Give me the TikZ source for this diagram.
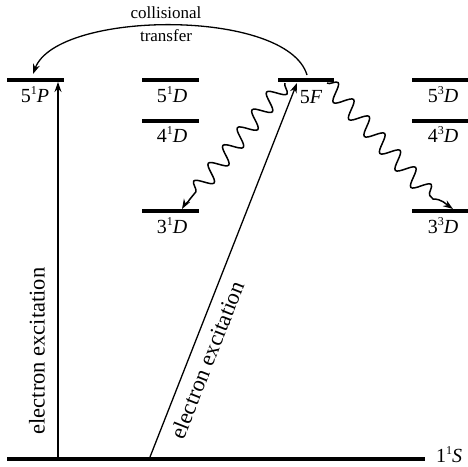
\documentclass[tikz,border=0pt]{standalone}
\usepackage{fontspec}
\setmainfont{Liberation Serif}
\usetikzlibrary{arrows.meta,decorations.pathmorphing}
\begin{document}
\begin{tikzpicture}[x=1pt,y=-1pt,
  level/.style={line width=3.5pt},
  lab/.style={font=\fontsize{20}{22}\selectfont, inner sep=0pt, anchor=base},
  big/.style={font=\fontsize{22.5}{24}\selectfont, inner sep=0pt, anchor=center},
  small/.style={font=\fontsize{17}{19}\selectfont, inner sep=0pt, anchor=base},
  arr/.style={-{Stealth[length=10pt,width=7pt]}, line width=1.3pt},
  snk/.style={line width=1.5pt, decoration={snake, segment length=23pt, amplitude=8.5pt, pre length=0pt, post length=0pt}}]
\useasboundingbox (0,0) rectangle (468,466);

% levels
\draw[level] (7,80) coordinate (P5a) -- (64,80) coordinate (P5b);
\draw[level] (142,80) coordinate (D51a) -- (199,80) coordinate (D51b);
\draw[level] (142,121) coordinate (D41a) -- (199,121) coordinate (D41b);
\draw[level] (142,211) coordinate (D31a) -- (199,211) coordinate (D31b);
\draw[level] (278,80) coordinate (F5a) -- (334,80) coordinate (F5b);
\draw[level] (412,80) coordinate (D53a) -- (468,80) coordinate (D53b);
\draw[level] (412,121) coordinate (D43a) -- (468,121) coordinate (D43b);
\draw[level] (412,211) coordinate (D33a) -- (468,211) coordinate (D33b);
\draw[level] (7,459) coordinate (S1a) -- (425,459) coordinate (S1b);

% level labels
\newcommand{\sps}[1]{\raisebox{0.38em}{\fontsize{12}{12}\selectfont #1}}
\node[lab] (lP5) at (35,102) {5\sps{1}\textit{P}};
\node[lab] (lD51) at (172,102) {5\sps{1}\textit{D}};
\node[lab] (lD41) at (172,142) {4\sps{1}\textit{D}};
\node[lab] (lD31) at (172,233) {3\sps{1}\textit{D}};
\node[lab] (lF5) at (311,103) {5\textit{F}};
\node[lab] (lD53) at (443,102) {5\sps{3}\textit{D}};
\node[lab] (lD43) at (443,142) {4\sps{3}\textit{D}};
\node[lab] (lD33) at (443,233) {3\sps{3}\textit{D}};
\node[lab] (lS1) at (449,462) {1\sps{1}\textit{S}};

% connector end points
\coordinate (g1) at (58,457);
\coordinate (p1) at (58,82);
\coordinate (g2) at (150,457);
\coordinate (f1) at (297,83);
\coordinate (ct) at (307,75);
\coordinate (cp) at (33,74);
\coordinate (w1s) at (285,83);
\coordinate (w1m) at (190,199);
\coordinate (w1e) at (182,209);
\coordinate (w2s) at (327,83);
\coordinate (w2m) at (433,199);
\coordinate (w2e) at (453,209);

% electron excitation
\draw[arr] (g1) -- (p1);
\node[big, rotate=90] (ee1) at (37,351) {electron excitation};
\draw[arr] (g2) -- (f1);
\node[big, rotate=68.5] (ee2) at (207,360) {electron excitation};

% collisional transfer
\draw[arr] (ct) .. controls (287,8) and (57,10) .. (cp);
\node[small] (coll) at (166,18) {collisional};
\node[small] (trans) at (166,41) {transfer};

% radiative decays
\draw[arr, snk] (w1s) decorate {-- (w1m)} to[out=-120, in=60] (w1e);
\draw[arr, snk] (w2s) decorate {-- (w2m)} to[out=0, in=145] (w2e);
\end{tikzpicture}
\end{document}
